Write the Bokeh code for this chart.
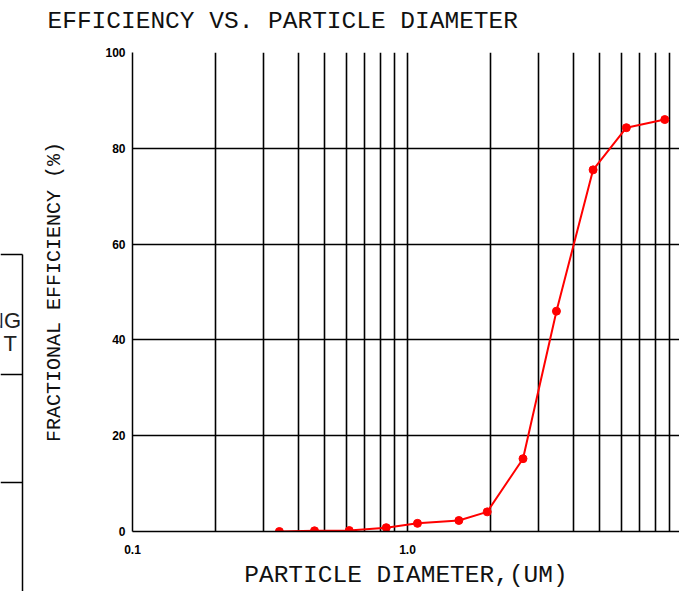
from bokeh.plotting import figure
from bokeh.layouts import row, column
from bokeh.models import Range1d, FixedTicker, CustomJSTickFormatter, ColumnDataSource
from bokeh.core.properties import value
from bokeh.embed import file_html
from bokeh.resources import INLINE

# ---- data ----
diameter_um = [0.342, 0.459, 0.614, 0.837, 1.087, 1.537, 1.949, 2.63, 3.48, 4.73, 6.25, 8.62]
efficiency_pct = [0.0, 0.15, 0.2, 0.8, 1.7, 2.3, 4.1, 15.2, 46.0, 75.5, 84.3, 86.0]

x_major_ticks = [0.1, 1.0]
x_minor_ticks = [0.2, 0.3, 0.4, 0.5, 0.6, 0.7, 0.8, 0.9, 2, 3, 4, 5, 6, 7, 8, 9]
y_ticks = [0, 20, 40, 60, 80, 100]

title_text = "EFFICIENCY VS. PARTICLE DIAMETER"
x_label_text = "PARTICLE DIAMETER,(UM)"
y_label_text = "FRACTIONAL EFFICIENCY (%)"
table_texts = ["NG", "T"]

CAD_FONT = "Liberation Mono"
PAGE_W, PAGE_H = 679, 591
TITLE_H = 40


def bare(fig):
    fig.frame_align = False
    fig.axis.visible = False
    fig.grid.visible = False
    fig.outline_line_color = None
    fig.background_fill_color = "white"
    fig.border_fill_color = "white"


# ---- title strip ----
ttl = figure(width=PAGE_W, height=TITLE_H, output_backend="svg", toolbar_location=None,
             x_range=Range1d(0, PAGE_W), y_range=Range1d(TITLE_H, 0),
             min_border_left=0, min_border_right=0, min_border_top=0, min_border_bottom=0)
bare(ttl)
ttl.text(x=[47], y=[21], text=[title_text], text_align="left", text_baseline="alphabetic",
         text_font=value(CAD_FONT), text_font_size="24.5px", text_color="#111111")

# ---- left partial table (cut off in the reference) ----
t = figure(width=28, height=PAGE_H - TITLE_H, output_backend="svg", toolbar_location=None,
           x_range=Range1d(0, 28), y_range=Range1d(PAGE_H, TITLE_H),
           min_border_left=0, min_border_right=0, min_border_top=0, min_border_bottom=0)
bare(t)
t.segment(x0=[0, 0, 0, 22], y0=[254, 374, 482, 254], x1=[22, 22, 22, 22], y1=[254, 374, 482, PAGE_H],
          line_color="black", line_width=1.5)
t.text(x=[20.5, 16.5], y=[320, 343], text=table_texts, text_align="right", text_baseline="alphabetic",
       text_font=value("Liberation Sans"), text_font_size="22px", text_color="#222222")

# ---- main chart ----
p = figure(width=PAGE_W - 28, height=PAGE_H - TITLE_H, output_backend="svg", toolbar_location=None,
           x_axis_type="log", x_range=Range1d(0.1, 9.75), y_range=Range1d(0, 100),
           min_border_left=104, min_border_right=0, min_border_top=52 - TITLE_H, min_border_bottom=60)
p.frame_align = False
p.outline_line_color = None
p.background_fill_color = "white"
p.border_fill_color = "white"

p.xaxis.ticker = FixedTicker(ticks=x_major_ticks, minor_ticks=x_minor_ticks)
p.xaxis.formatter = CustomJSTickFormatter(code="return tick.toFixed(1);")
p.yaxis.ticker = FixedTicker(ticks=y_ticks)
for ax in (p.xaxis, p.yaxis):
    ax.major_tick_line_color = None
    ax.minor_tick_line_color = None
    ax.major_tick_out = 0
    ax.major_tick_in = 0
    ax.minor_tick_out = 0
    ax.minor_tick_in = 0
    ax.axis_line_color = "black"
    ax.axis_line_width = 1.5
    ax.major_label_text_font = "Liberation Sans"
    ax.major_label_text_font_style = "bold"
    ax.major_label_text_font_size = "12px"
    ax.major_label_text_color = "black"
    ax.axis_label_text_font = CAD_FONT
    ax.axis_label_text_font_style = "normal"
    ax.axis_label_text_color = "#111111"
p.xaxis.major_label_standoff = 13
p.xaxis.axis_label = x_label_text
p.xaxis.axis_label_text_font_size = "24.5px"
p.xaxis.axis_label_standoff = 5
p.yaxis.major_label_standoff = 7
p.yaxis.axis_label = y_label_text
p.yaxis.axis_label_text_font_size = "20px"
p.yaxis.axis_label_standoff = 36

p.xgrid.ticker = FixedTicker(ticks=x_major_ticks, minor_ticks=x_minor_ticks)
p.xgrid.grid_line_color = "black"
p.xgrid.grid_line_width = 1.6
p.xgrid.minor_grid_line_color = "black"
p.xgrid.minor_grid_line_width = 1.6
p.ygrid.ticker = FixedTicker(ticks=y_ticks)
p.ygrid.grid_line_color = "black"
p.ygrid.grid_line_width = 1.6

src = ColumnDataSource(dict(d=diameter_um, e=efficiency_pct))
p.line("d", "e", source=src, line_color="red", line_width=2)
p.scatter("d", "e", source=src, size=8, fill_color="red", line_color="red")

layout = column(ttl, row(t, p, spacing=0), spacing=0)
open("out.html", "w").write(file_html(layout, INLINE))
